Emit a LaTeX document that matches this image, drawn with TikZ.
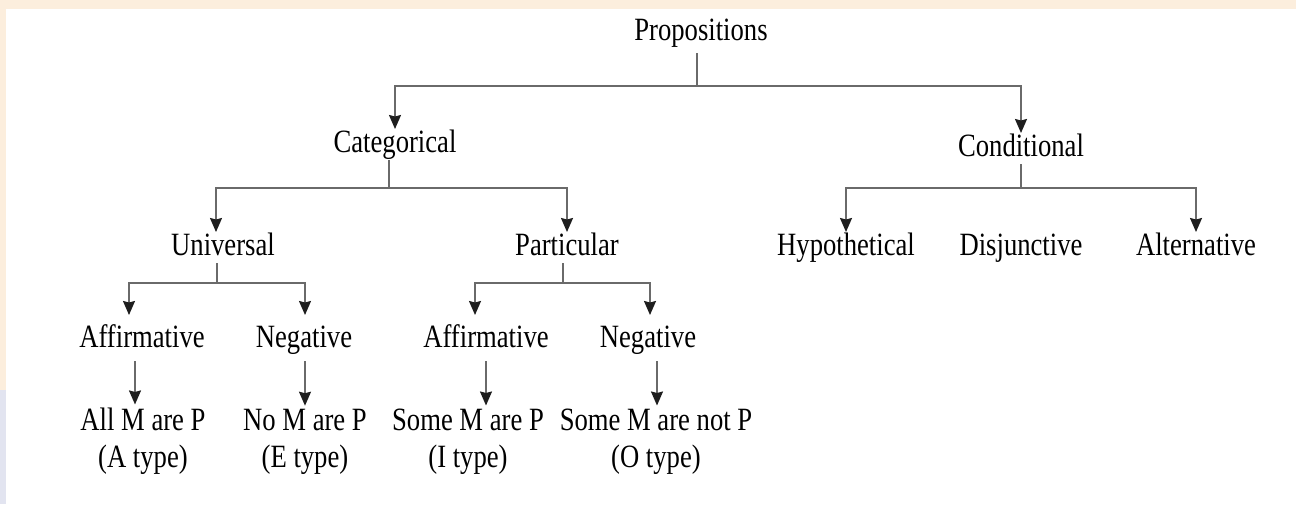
\documentclass[tikz,border=0pt]{standalone}
\usepackage{fontspec}
\setmainfont[FakeStretch=0.82]{Liberation Serif}
\usepackage{tikz}
\usetikzlibrary{arrows.meta, positioning, calc}
\definecolor{lineGray}{HTML}{6A6A6A}
\definecolor{tipDark}{HTML}{1E1E1E}
\definecolor{edgeOrange}{HTML}{FCEEDD}
\definecolor{edgeBlue}{HTML}{E2E4F0}

\begin{document}
\begin{tikzpicture}[x=1pt, y=-1pt,
        font=\fontsize{32.5}{37}\selectfont,
        >={Stealth[length=14pt, width=12pt, inset=1.5pt, color=tipDark]},
        term/.style={inner sep=0pt, outer sep=0pt, anchor=base, text height=23pt, text depth=8pt},
        leaf/.style={inner sep=0pt, outer sep=0pt, anchor=base, align=center},
        link/.style={line width=1.6pt, lineGray}]
        % Frame and screenshot edges
        \useasboundingbox (0,0) rectangle (1296,504);
        \fill[white] (0,0) rectangle (1296,504);
        \fill[edgeOrange] (0,0) rectangle (1296,9);
        \fill[edgeOrange] (0,9) rectangle (6,390);
        \fill[edgeBlue] (0,390) rectangle (6,504);

        % Terms
        \node[term] (prop) at (701,40) {Propositions};
        \node[term] (cat) at (395,152) {Categorical};
        \node[term] (cond) at (1021,156) {Conditional};
        \node[term] (univ) at (223,255) {Universal};
        \node[term] (part) at (567,255) {Particular};
        \node[term] (hyp) at (846,255) {Hypothetical};
        \node[term] (disj) at (1021,255) {Disjunctive};
        \node[term] (alt) at (1196,255) {Alternative};
        \node[term] (uaff) at (142,347) {Affirmative};
        \node[term] (uneg) at (304,347) {Negative};
        \node[term] (paff) at (486,347) {Affirmative};
        \node[term] (pneg) at (648,347) {Negative};

        % Forms
        \node[leaf] (atype) at (143,467) {All M are P\\(A type)};
        \node[leaf] (etype) at (305,467) {No M are P\\(E type)};
        \node[leaf] (itype) at (468,467) {Some M are P\\(I type)};
        \node[leaf] (otype) at (656,467) {Some M are not P\\(O type)};

        % Junctions
        \coordinate (jprop) at (697,86);
        \coordinate (jcat) at (389,188);
        \coordinate (jcond) at (1021,188);
        \coordinate (juniv) at (217,283);
        \coordinate (jpart) at (563,283);

        % Brackets
        \draw[link, shorten <=5pt] (jprop |- prop.south) -- (jprop);
        \draw[link, ->] (jprop) -| (cat.north);
        \draw[link, ->] (jprop) -| (cond.north);

        \draw[link] (jcat |- cat.south) -- (jcat);
        \draw[link, ->] (jcat) -| ([xshift=-7pt]univ.north);
        \draw[link, ->] (jcat) -| (part.north);

        \draw[link] (jcond |- cond.south) -- (jcond);
        \draw[link, ->] (jcond) -| (hyp.north);
        \draw[link, ->] (jcond) -| (alt.north);

        \draw[link] (juniv |- univ.south) -- (juniv);
        \draw[link, ->, shorten >=9pt] (juniv) -| ([xshift=-13pt]uaff.north);
        \draw[link, ->, shorten >=9pt] (juniv) -| ([xshift=1pt]uneg.north);

        \draw[link] (jpart |- part.south) -- (jpart);
        \draw[link, ->, shorten >=9pt] (jpart) -| ([xshift=-11pt]paff.north);
        \draw[link, ->, shorten >=9pt] (jpart) -| ([xshift=2pt]pneg.north);

        % Type arrows
        \draw[link, ->, shorten <=6pt, shorten >=3pt] ([xshift=-7pt]uaff.south) -- ([xshift=-7pt]uaff.south |- atype.north);
        \draw[link, ->, shorten <=6pt, shorten >=3pt] (uneg.south -| etype.north) -- (etype.north);
        \draw[link, ->, shorten <=6pt, shorten >=3pt] (paff.south) -- (paff.south |- itype.north);
        \draw[link, ->, shorten <=6pt, shorten >=3pt] ([xshift=9pt]pneg.south) -- ([xshift=9pt]pneg.south |- otype.north);
    \end{tikzpicture}
\end{document}
